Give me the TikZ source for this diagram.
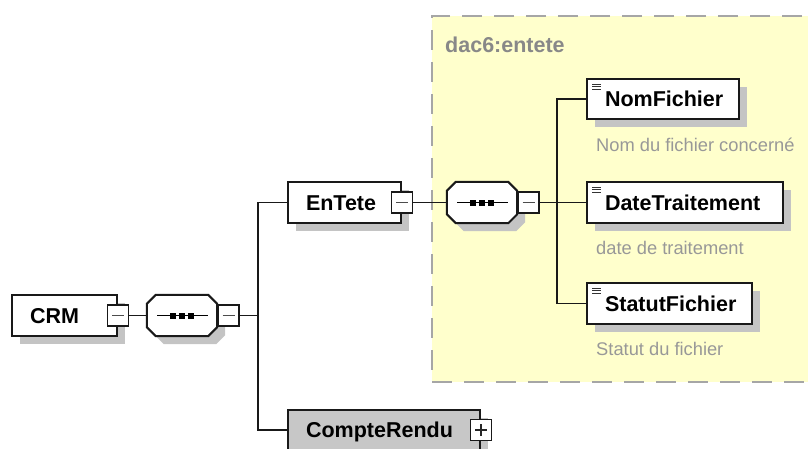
\documentclass[tikz,border=0pt]{standalone}
\usepackage{fontspec}
\setmainfont{Liberation Sans}
\usepackage{xcolor}
\usetikzlibrary{positioning,shadows,backgrounds,calc}

\definecolor{grpyellow}{RGB}{255,255,204}
\definecolor{shadowgray}{RGB}{196,196,196}
\definecolor{descgray}{RGB}{152,152,152}
\definecolor{lblgray}{RGB}{136,136,136}

% octagonal sequence compositor drawn round a named node
\newcommand{\seqoct}[1]{%
  \draw[seqline] ([xshift=9pt]#1.north west) -- ([xshift=-9pt]#1.north east)
    -- ([yshift=-9pt]#1.north east) -- ([yshift=9pt]#1.south east)
    -- ([xshift=-9pt]#1.south east) -- ([xshift=9pt]#1.south west)
    -- ([yshift=9pt]#1.south west) -- ([yshift=-9pt]#1.north west) -- cycle;
  \draw[line width=1.4pt] ([xshift=-25pt]#1.center) -- ([xshift=26pt]#1.center);
  \foreach \dx in {-12,-3,6}
    \fill[black] ([xshift=\dx pt,yshift=-3pt]#1.center) rectangle +(6pt,6pt);}

\begin{document}
\begin{tikzpicture}[
  x=1pt, y=-1pt,
  font=\fontsize{21.5}{24}\selectfont\bfseries,
  boxshadow/.style={drop shadow={shadow xshift=8pt, shadow yshift=-8pt,
      fill=shadowgray, opacity=1}},
  elem/.style={
    draw=black!90, line width=2pt, fill=white, boxshadow,
    minimum height=41pt, inner xsep=18pt, inner ysep=0pt,
    text width=#1, align=left, text height=15pt, text depth=0pt,
    execute at begin node={\hyphenpenalty=10000\exhyphenpenalty=10000}
  },
  elemgray/.style={elem=#1, fill=black!22},
  leaf/.style={elem=#1, path picture={
      \foreach \dy in {5,7.5,10}
        \draw[line width=1pt, black!80]
          ([xshift=5pt,yshift=-\dy pt]path picture bounding box.north west) -- +(9pt,0pt);}},
  seq/.style={minimum width=70pt, minimum height=41pt, inner sep=0pt},
  seqline/.style={draw=black!90, line width=2pt, fill=white, boxshadow},
  minusbox/.style={
    draw=black!90, line width=1.9pt, fill=white, minimum size=21pt, inner sep=0pt,
    path picture={
      \draw[line width=1.1pt, black!70] ([xshift=-6pt]path picture bounding box.center)
        -- ([xshift=6pt]path picture bounding box.center);}
  },
  plusbox/.style={minusbox,
    path picture={
      \draw[line width=1.1pt, black!85] ([xshift=-6pt]path picture bounding box.center)
        -- ([xshift=6pt]path picture bounding box.center);
      \draw[line width=1.1pt, black!85] ([yshift=-6pt]path picture bounding box.center)
        -- ([yshift=6pt]path picture bounding box.center);}
  },
  conn/.style={draw=black!90, line width=1.9pt},
  grp/.style={draw=black!35, line width=2.4pt, dash pattern=on 20pt off 12pt,
    fill=grpyellow, minimum width=418pt, minimum height=366pt, inner sep=0pt},
  grplbl/.style={font=\fontsize{21.5}{24}\selectfont\bfseries, text=lblgray,
    inner sep=0pt, anchor=base west},
  desc/.style={font=\fontsize{18.3}{22}\selectfont, text=descgray,
    inner sep=0pt, anchor=base west}
]
\useasboundingbox (0,0) rectangle (808,448);
\clip (0,0) rectangle (808,448);

% ---- root and its sequence ----
\node[elem=69pt] (crm) at (64.5,315.5) {CRM};
\node[minusbox] (crmx) at (crm.east) {};
\node[seq] (seq1) at (182,315.5) {};
\seqoct{seq1}
\node[minusbox, anchor=west] (seq1x) at (seq1.east) {};
\coordinate (fork1) at (258,315.5);

% ---- children of the root ----
\node[elem=77pt] (entete) at (344.5,202.5) {EnTete};
\node[minusbox] (entetex) at (entete.east) {};
\node[elemgray=156pt] (compte) at (384,430) {CompteRendu};
\node[plusbox] (comptex) at (compte.east) {};

% ---- type dac6:entete ----
\node[seq] (seq2) at (482,202.5) {};
\seqoct{seq2}
\node[minusbox, anchor=west] (seq2x) at (seq2.east) {};
\coordinate (fork2) at (557,202.5);

\node[leaf=116pt, minimum height=40pt] (nom) at (663,99) {NomFichier};
\node[leaf=160pt] (date) at (685,202.5) {DateTraitement};
\node[leaf=129pt] (statut) at (669.5,303.5) {StatutFichier};

\node[desc] (nomdesc) at ($(nom.south west)+(10,31)$) {Nom du fichier concerné};
\node[desc] (datedesc) at ($(date.south west)+(10,30.5)$) {date de traitement};
\node[desc] (statutdesc) at ($(statut.south west)+(10,30.5)$) {Statut du fichier};

% ---- background band ----
\begin{scope}[on background layer]
  \node[grp] (grpbox) at (641,199) {};
\end{scope}
\node[grplbl] (grplabel) at (445,52) {dac6:entete};

% ---- connectors ----
\draw[conn] (crmx.east) -- (seq1.west);
\draw[conn] (seq1x.east) -- (fork1);
\draw[conn] (fork1) |- (entete.west);
\draw[conn] (fork1) |- (compte.west);
\draw[conn] (entetex.east) -- (seq2.west);
\draw[conn] (seq2x.east) -- (date.west);
\draw[conn] (fork2) |- (nom.west);
\draw[conn] (fork2) |- (statut.west);

\end{tikzpicture}
\end{document}
